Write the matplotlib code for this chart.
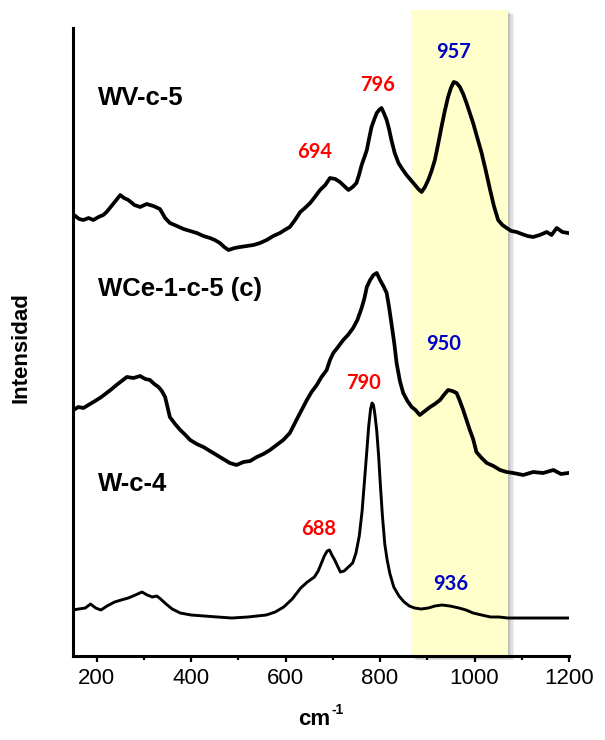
import matplotlib
matplotlib.use("Agg")
import matplotlib.pyplot as plt
import matplotlib.patheffects as pe
from matplotlib.ticker import MultipleLocator

# Raman shift (cm-1) and offset intensities (arbitrary units)
wv_x = [152, 163, 172, 183, 193, 204, 214, 221, 228, 240, 250, 258, 267, 280, 292, 306,
        320, 334, 345, 355, 370, 384, 398, 412, 426, 440, 450, 461, 470, 479, 492, 504,
        518, 532, 546, 560, 574, 588, 598, 609, 620, 631, 641, 652, 662, 673, 684, 694,
        705, 715, 724, 733, 742, 750, 756, 761, 767, 772, 777, 782, 788, 793, 798, 803,
        808, 814, 819, 824, 831, 839, 847, 856, 865, 874, 881, 888, 895, 902, 909, 916,
        923, 930, 937, 944, 950, 956, 962, 969, 976, 983, 990, 997, 1006, 1015, 1024, 1033,
        1041, 1050, 1059, 1068, 1078, 1089, 1100, 1112, 1124, 1138, 1153, 1163, 1174, 1186,
        1198]
wv_y = [441, 437, 436, 438, 436, 439, 441, 444, 448, 455, 461, 458, 456, 451, 449, 452,
        450, 447, 438, 433, 430, 427, 425, 423, 420, 418, 416, 413, 409, 406, 408, 409,
        410, 411, 413, 416, 420, 423, 426, 429, 436, 444, 448, 453, 459, 466, 471, 478,
        477, 474, 470, 466, 469, 473, 482, 491, 499, 506, 518, 529, 537, 543, 546, 548,
        543, 536, 527, 516, 503, 493, 487, 481, 476, 471, 467, 464, 469, 476, 485, 496,
        512, 529, 545, 559, 568, 574, 573, 569, 562, 553, 543, 533, 518, 503, 485, 466,
        450, 436, 431, 428, 425, 424, 422, 420, 419, 421, 424, 421, 428, 424,
        423]

wce_x = [151, 161, 172, 186, 200, 210, 221, 232, 242, 253, 264, 278, 292, 303, 313, 322,
         331, 338, 345, 350, 355, 366, 377, 388, 398, 412, 426, 440, 454, 468, 482, 496,
         511, 525, 539, 553, 567, 581, 595, 609, 623, 634, 645, 655, 666, 676, 687, 694,
         701, 711, 722, 732, 743, 752, 761, 767, 772, 779, 786, 793, 800, 807, 814, 819,
         824, 830, 835, 842, 849, 858, 867, 875, 884, 895, 906, 916, 927, 935, 944, 953,
         962, 969, 976, 983, 990, 997, 1004, 1015, 1026, 1040, 1054, 1068, 1082, 1103, 1124,
         1145, 1167, 1183, 1198]
wce_y = [246, 249, 248, 252, 256, 259, 263, 267, 271, 275, 279, 278, 280, 277, 276, 272,
         269, 265, 259, 249, 239, 232, 226, 221, 216, 212, 209, 205, 201, 197, 193, 191,
         194, 195, 199, 202, 206, 211, 216, 223, 236, 246, 256, 264, 271, 279, 286, 296,
         303, 309, 316, 321, 328, 336, 348, 358, 369, 376, 381, 383, 376, 370, 363, 349,
         333, 313, 293, 275, 263, 255, 249, 246, 241, 245, 249, 252, 256, 261, 266, 265,
         263, 255, 246, 236, 226, 217, 204, 198, 193, 190, 186, 184, 183, 181, 184,
         183, 186, 182, 183]

w_x = [150, 162, 176, 187, 198, 209, 222, 238, 252, 267, 282, 296, 307, 318, 327, 333,
       340, 347, 360, 377, 400, 428, 456, 486, 520, 559, 578, 596, 614, 632, 646, 661,
       669, 676, 682, 688, 693, 698, 704, 710, 716, 724, 733, 742, 749, 756, 762, 767,
       772, 776, 780, 783, 786, 789, 793, 797, 800, 805, 810, 815, 821, 829, 840, 851,
       862, 873, 887, 902, 916, 931, 948, 967, 982, 997, 1015, 1034, 1052, 1070, 1100,
       1143, 1172, 1200]
w_y = [46, 47, 48, 52, 48, 46, 50, 54, 56, 58, 61, 64, 61, 59, 60, 58,
       55, 52, 47, 43, 41, 40, 39, 38, 39, 41, 44, 49, 57, 68, 74, 79,
       85, 93, 100, 105, 106, 101, 96, 90, 84, 85, 89, 93, 103, 120, 145, 175,
       205, 230, 247, 253, 251, 242, 225, 200, 176, 140, 112, 96, 82, 69, 60, 54,
       50, 48, 47, 48, 50, 51, 50, 48, 46, 43, 41, 39, 39, 38, 38,
       38, 38, 38]

series_names = ["WV-c-5", "WCe-1-c-5 (c)", "W-c-4"]
peak_labels = ["694", "796", "957", "950", "790", "688", "936"]
xticks = [200, 400, 600, 800, 1000, 1200]
band = (865, 1071)

fig = plt.figure(figsize=(6.05, 7.40), dpi=100)
ax = fig.add_axes([0.1207, 0.1135, 0.8198, 0.8730])
ax.set_xlim(150, 1200)
ax.set_ylim(0, 646)

span = ax.axvspan(band[0], band[1], ymin=0, ymax=1, facecolor="#FFFFCC",
                  edgecolor="none", zorder=0, clip_on=False)
shadows = [pe.SimplePatchShadow(offset=(d, -d * 0.8), shadow_rgbFace="#000000", alpha=0.06)
           for d in (4.0, 3.2, 2.4, 1.6, 0.8)]
span.set_path_effects(shadows + [pe.Normal()])

for xs, ys, lw in [(wv_x, wv_y, 2.7), (wce_x, wce_y, 2.7), (w_x, w_y, 2.1)]:
    ax.plot(xs, ys, color="black", lw=lw, solid_joinstyle="round", zorder=3)

name_font = dict(family="Liberation Sans", weight="bold", fontsize=18.5, color="black")
ax.text(203, 558, series_names[0], ha="left", va="center", **name_font)
ax.text(203, 367, series_names[1], ha="left", va="center", **name_font)
ax.text(203, 172, series_names[2], ha="left", va="center", **name_font)

pk_font = dict(family="Lato", weight="bold", fontsize=14.5)
red = "#FF0000"
blue = "#0000C8"
ax.text(661, 504, peak_labels[0], ha="center", va="center", color=red, **pk_font)
ax.text(794, 571, peak_labels[1], ha="center", va="center", color=red, **pk_font)
ax.text(956, 604, peak_labels[2], ha="center", va="center", color=blue, **pk_font)
ax.text(935, 312, peak_labels[3], ha="center", va="center", color=blue, **pk_font)
ax.text(766, 273, peak_labels[4], ha="center", va="center", color=red, **pk_font)
ax.text(670, 127, peak_labels[5], ha="center", va="center", color=red, **pk_font)
ax.text(950, 72, peak_labels[6], ha="center", va="center", color=blue, **pk_font)

for s in ["top", "right"]:
    ax.spines[s].set_visible(False)
ax.spines["left"].set_linewidth(2.2)
ax.spines["bottom"].set_linewidth(2.2)
ax.spines["left"].set_bounds(0, 628)
ax.spines["left"].set_zorder(4)
ax.spines["bottom"].set_zorder(4)
ax.set_yticks([])
ax.set_xticks(xticks)
ax.xaxis.set_minor_locator(MultipleLocator(100))
ax.tick_params(axis="x", which="major", direction="out", length=4.5, width=1.6,
               labelsize=16, pad=4)
ax.tick_params(axis="x", which="minor", direction="out", length=3, width=1.6)
for lab in ax.get_xticklabels():
    lab.set_family("Liberation Sans")

fig.text(298 / 605, 1 - 725 / 740, "cm", ha="left", va="baseline",
         fontsize=16, fontweight="bold", family="Liberation Sans")
fig.text(331 / 605, 1 - 714 / 740, "-1", ha="left", va="baseline",
         fontsize=10, fontweight="bold", family="Liberation Sans")
fig.text(21 / 605, 1 - 348 / 740, "Intensidad", rotation=90, ha="center", va="center",
         fontsize=16, fontweight="bold", family="Liberation Sans")

fig.savefig("out.png", dpi=100)
